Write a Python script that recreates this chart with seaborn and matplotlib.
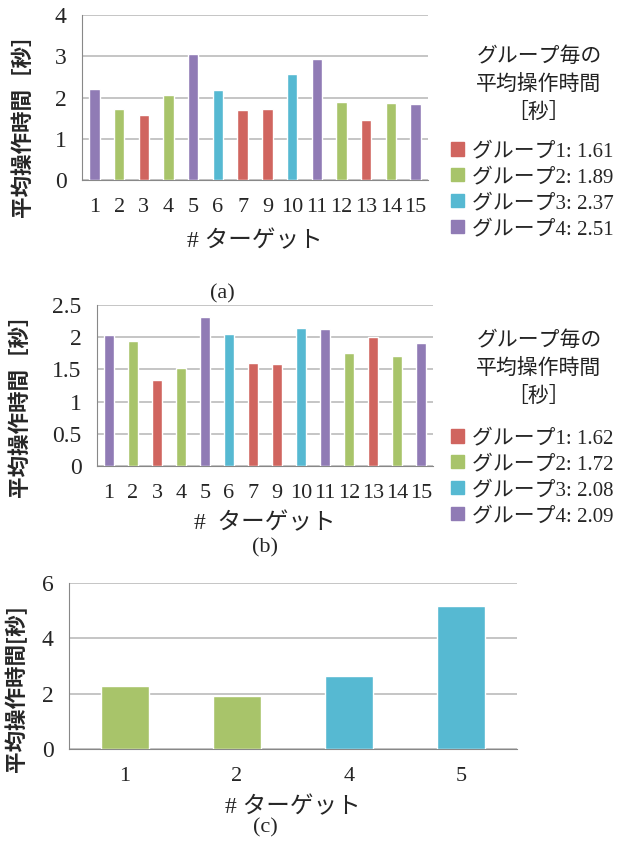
import matplotlib
matplotlib.use('Agg')
import matplotlib.pyplot as plt
import matplotlib.patches as mpatches
import seaborn as sns
import pandas as pd

# colours per group (Excel-like)
GROUP_COLORS = {'1': '#D0655F', '2': '#A8C46A', '3': '#56B9D2', '4': '#907BB5'}

# (a)
targets_a = ['1', '2', '3', '4', '5', '6', '7', '9', '10', '11', '12', '13', '14', '15']
times_a = [2.21, 1.73, 1.58, 2.06, 3.06, 2.19, 1.70, 1.73, 2.57, 2.94, 1.90, 1.46, 1.87, 1.85]
groups_a = ['4', '2', '1', '2', '4', '3', '1', '1', '3', '4', '2', '1', '2', '4']
means_a = ['1.61', '1.89', '2.37', '2.51']

# (b)
targets_b = ['1', '2', '3', '4', '5', '6', '7', '9', '10', '11', '12', '13', '14', '15']
times_b = [2.03, 1.94, 1.33, 1.52, 2.31, 2.05, 1.60, 1.58, 2.14, 2.13, 1.75, 2.00, 1.71, 1.91]
groups_b = ['4', '2', '1', '2', '4', '3', '1', '1', '3', '4', '2', '1', '2', '4']
means_b = ['1.62', '1.72', '2.08', '2.09']

# (c)
targets_c = ['1', '2', '4', '5']
times_c = [2.28, 1.92, 2.64, 5.18]
groups_c = ['2', '2', '3', '3']

sns.set_style('white')
plt.rcParams['font.family'] = ['Liberation Serif', 'Noto Sans CJK JP']

fig = plt.figure(figsize=(6.25, 8.41), dpi=100)

JP = ['Noto Sans CJK JP', 'DejaVu Sans']
W, H = 625, 841


def draw_panel(rect, targets, times, groups, yticks, yticklabels, ylabel, xlabel,
               ylab_xy, xpad):
    ax = fig.add_axes(rect)
    df = pd.DataFrame({'target': targets, 'time': times, 'group': groups})
    sns.barplot(data=df, x='target', y='time', hue='group', palette=GROUP_COLORS,
                order=targets, dodge=False, width=0.42, saturation=1,
                legend=False, ax=ax, zorder=3)
    n = len(targets)
    ax.set_xlim(-0.5, n - 0.5)
    ax.set_ylim(yticks[0], yticks[-1])
    ax.set_yticks(yticks)
    ax.set_yticklabels(yticklabels, fontsize=17)
    ax.set_xticks(range(n))
    ax.set_xticklabels(targets, fontsize=16)
    ax.set_xticks([i - 0.5 for i in range(n + 1)], minor=True)
    ax.tick_params(axis='x', which='major', length=0, pad=13)
    ax.tick_params(axis='x', which='minor', length=5, color='#888888', direction='out')
    ax.tick_params(axis='y', which='major', length=5, color='#888888', direction='out', pad=6)
    ax.yaxis.grid(True, color='#BBBBBB', lw=1.2, zorder=0)
    ax.set_axisbelow(True)
    for s in ['top', 'right']:
        ax.spines[s].set_visible(False)
    for s in ['left', 'bottom']:
        ax.spines[s].set_color('#888888')
    ax.set_ylabel(ylabel, fontsize=15.5, fontweight='bold', family=JP)
    ax.yaxis.set_label_coords(*ylab_xy)
    ax.set_xlabel(xlabel, fontsize=17, family=['Liberation Serif', 'Noto Sans CJK JP'],
                  labelpad=xpad)
    return ax


def add_legend(ax, means, title_y, entry_y):
    # title as separate centred text, entries as legend
    fig.text(539 / W, 1 - title_y / H, 'グループ毎の\n平均操作時間\n［秒］', ha='center', va='center',
             fontsize=15, linespacing=1.35, color='#222222', family=JP)
    handles = [mpatches.Patch(color=GROUP_COLORS[str(i + 1)],
                              label=f'グループ{i + 1}: {m}') for i, m in enumerate(means)]
    ax.legend(handles=handles, loc='upper left', bbox_to_anchor=(443 / W, 1 - entry_y / H),
              bbox_transform=fig.transFigure, frameon=False, borderaxespad=0,
              fontsize=15, handlelength=0.6, handleheight=0.6,
              handletextpad=0.4, labelspacing=0.33)


ax_a = draw_panel([82 / W, 1 - 180 / H, 346 / W, 165 / H],
                  targets_a, times_a, groups_a, [0, 1, 2, 3, 4], ['0', '1', '2', '3', '4'],
                  '平均操作時間［秒］', '# ターゲット', (-0.142, 0.36), 10)
add_legend(ax_a, means_a, 84, 134)

ax_b = draw_panel([97 / W, 1 - 466 / H, 336 / W, 161 / H],
                  targets_b, times_b, groups_b, [0, 0.5, 1, 1.5, 2, 2.5],
                  ['0', '0.5', '1', '1.5', '2', '2.5'],
                  '平均操作時間［秒］', '#  ターゲット', (-0.199, 0.41), 7)
add_legend(ax_b, means_b, 368, 421)

ax_c = draw_panel([69 / W, 1 - 749 / H, 448 / W, 166 / H],
                  targets_c, times_c, groups_c, [0, 2, 4, 6], ['0', '2', '4', '6'],
                  '平均操作時間[秒]', '# ターゲット', (-0.094, 0.367), 8)

fig.text(222 / W, 1 - 294 / H, '(a)', ha='center', va='center', fontsize=16)
fig.text(265 / W, 1 - 548 / H, '(b)', ha='center', va='center', fontsize=16)
fig.text(265 / W, 1 - 828 / H, '(c)', ha='center', va='center', fontsize=16)

fig.savefig('out.png', dpi=100)
